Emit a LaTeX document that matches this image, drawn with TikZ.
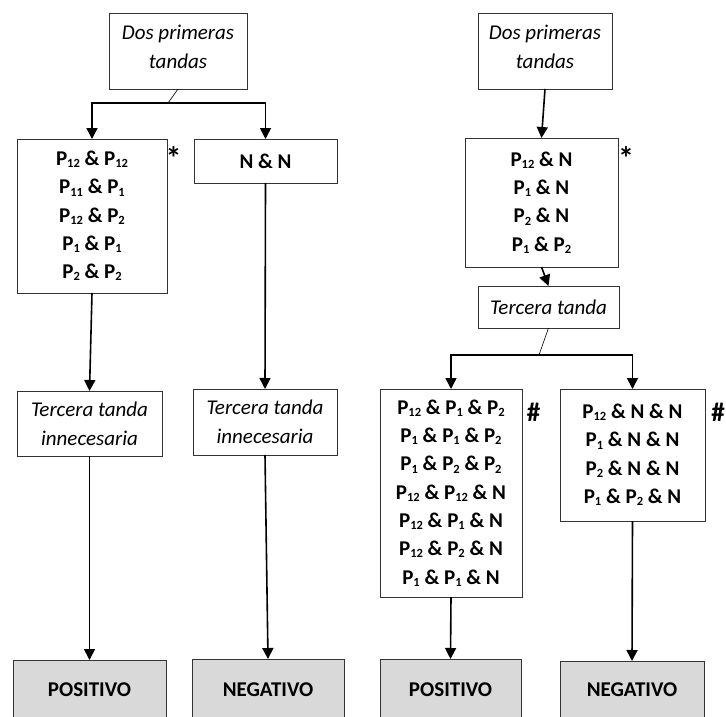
\documentclass[tikz,border=0pt]{standalone}
\usepackage{fontspec}
\setmainfont{Carlito}
\usetikzlibrary{arrows.meta}
% subscript index in the current (bold) face
\newcommand\ix[1]{\raisebox{-0.22ex}{\fontsize{12.5}{12.5}\selectfont #1}}
\begin{document}
\begin{tikzpicture}[x=1pt,y=-1pt,
  box/.style={draw=black!80,line width=0.9pt,inner sep=0pt,outer sep=0pt,
    align=center,font=\fontsize{21}{28.3}\selectfont},
  listbox/.style={box,font=\fontsize{21}{28.3}\selectfont\bfseries},
  notebox/.style={box,font=\fontsize{21}{29}\selectfont\itshape},
  result/.style={box,fill=black!15,font=\fontsize{21}{28}\selectfont\bfseries},
  flag/.style={inner sep=0pt,anchor=north,font=\fontsize{27}{27}\selectfont\bfseries},
  arr/.style={line width=1.6pt,-{Triangle[length=11pt,width=11pt]}},
  link/.style={line width=0.6pt}]
\clip (0,0) rectangle (726,717);
\useasboundingbox (0,0) rectangle (726,717);

% ---- left tree ----
\node[notebox,minimum width=138,minimum height=76] (d1) at (178,51)
  {Dos primeras\\tandas\vphantom{p}\\[-21pt]};
\node[listbox,minimum width=150,minimum height=154] (l1) at (92,216)
  {P\ix{12} \& P\ix{12}\\P\ix{11} \& P\ix{1}\\P\ix{12} \& P\ix{2}\\P\ix{1} \& P\ix{1}\\P\ix{2} \& P\ix{2}};
\node[listbox,minimum width=143,minimum height=44] (nn) at (265.5,161) {N \& N};
\node[flag,font=\fontsize{32}{32}\selectfont\bfseries] (s1) at (173.5,146) {*};
\node[notebox,minimum width=145,minimum height=65] (t1) at (89.5,423.5)
  {Tercera tanda\\innecesaria};
\node[notebox,minimum width=144,minimum height=66] (t2) at (265,422)
  {Tercera tanda\\innecesaria};
\node[result,minimum width=153,minimum height=60] (pos1) at (89.5,690) {POSITIVO};
\node[result,minimum width=152,minimum height=62] (neg1) at (268,690) {NEGATIVO};

\coordinate (j1) at (168,103);
\draw[link] (d1.south) -- (j1);
\draw[arr] (j1) -| (l1.north);
\draw[arr] (j1) -| (nn.north);
\draw[arr] (l1.south) -- (t1.north);
\draw[arr] (nn.south) -- (t2.north);
\draw[arr] (t1.south) -- (pos1.north);
\draw[arr] (t2.south) -- (neg1.north);

% ---- right tree ----
\node[notebox,minimum width=134,minimum height=76] (d2) at (545,51)
  {Dos primeras\\tandas\vphantom{p}\\[-21pt]};
\node[listbox,minimum width=153,minimum height=129] (r1) at (541.5,202.5)
  {P\ix{12} \& N\\P\ix{1} \& N\\P\ix{2} \& N\\P\ix{1} \& P\ix{2}};
\node[flag,font=\fontsize{32}{32}\selectfont\bfseries] (s2) at (626,146) {*};
\node[notebox,minimum width=141,minimum height=42] (t3) at (548.5,307) {Tercera tanda};
\node[listbox,minimum width=142,minimum height=208] (l2) at (451,493)
  {P\ix{12} \& P\ix{1} \& P\ix{2}\\P\ix{1} \& P\ix{1} \& P\ix{2}\\P\ix{1} \& P\ix{2} \& P\ix{2}\\
   P\ix{12} \& P\ix{12} \& N\\P\ix{12} \& P\ix{1} \& N\\P\ix{12} \& P\ix{2} \& N\\P\ix{1} \& P\ix{1} \& N};
\node[listbox,minimum width=145,minimum height=132] (r2) at (632.5,455)
  {P\ix{12} \& N \& N\\P\ix{1} \& N \& N\\P\ix{2} \& N \& N\\P\ix{1} \& P\ix{2} \& N};
\node[flag] (h1) at (533.5,403) {\#};
\node[flag] (h2) at (718,403) {\#};
\node[result,minimum width=141,minimum height=62] (pos2) at (450.5,690) {POSITIVO};
\node[result,minimum width=144,minimum height=58] (neg2) at (632,690) {NEGATIVO};

\coordinate (j2) at (539,355);
\draw[arr] (d2.south) -- (r1.north);
\draw[arr] (r1.south) -- (t3.north);
\draw[link] (t3.south) -- (j2);
\draw[arr] (j2) -| (l2.north);
\draw[arr] (j2) -| (r2.north);
\draw[arr] (l2.south) -- (pos2.north);
\draw[arr] (r2.south) -- (neg2.north);
\end{tikzpicture}
\end{document}
